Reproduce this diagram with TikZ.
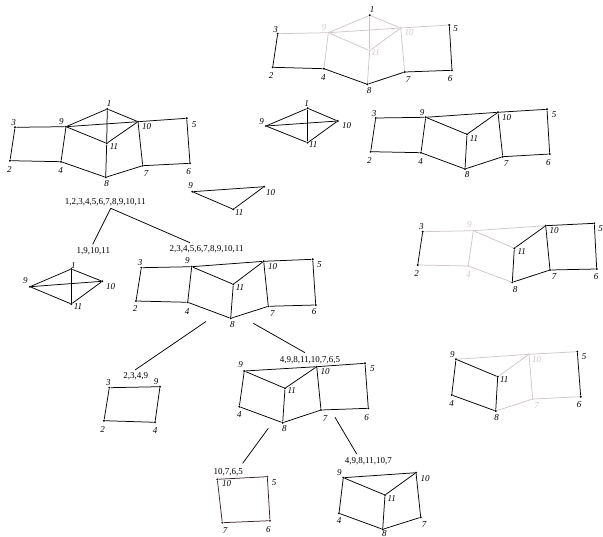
\documentclass[tikz,border=0pt]{standalone}
\usepackage{fontspec}
\setmainfont{Liberation Serif}
\definecolor{GraphFaint}{HTML}{CFC7C7}
\definecolor{GraphBrown}{HTML}{3A2424}
\tikzset{
  vertex/.style={circle, fill, inner sep=0pt, minimum size=2.2pt},
  vlabel/.style={font=\fontsize{9}{10}\selectfont\itshape, inner sep=0pt},
  setlabel/.style={font=\fontsize{9}{10}\selectfont, inner sep=0pt},
  gedge/.style={line width=0.75pt},
  fedge/.style={line width=0.75pt, GraphFaint},
}
\begin{document}
\begin{tikzpicture}[x=1pt,y=-1pt]
  \useasboundingbox (0,0) rectangle (603,537);
  % top: core faded
  \foreach \n/\x/\y/\lx/\ly/\c in {1/369.7/15.3/372/10/black, 2/272.7/67.3/271/76/black, 3/277.7/33.7/275.7/30/black, 4/324/68.7/323.3/77.3/black, 5/449.3/25/455.7/29/black, 6/452/70.3/450/79/black, 7/404.7/72/408/80/black, 8/367.3/84.3/369/90.7/black, 9/328.3/32.7/324/28/GraphFaint, 10/400.7/28/409/33/GraphFaint, 11/369.7/50.7/375.7/52.7/GraphFaint} {
    \node[vertex,\c] (T\n) at (\x,\y) {};
    \node[vlabel,text=\c] (lT\n) at (\lx,\ly) {\n};
  }
  \foreach \a/\b in {3/9, 9/1, 1/10, 9/10, 9/11, 1/11, 10/11, 10/5, 9/4, 11/8, 10/7}
    \draw[fedge] (T\a) -- (T\b);
  \foreach \a/\b in {3/2, 2/4, 4/8, 8/7, 7/6, 6/5}
    \draw[gedge] (T\a) -- (T\b);
  % left: whole graph
  \foreach \n/\x/\y/\lx/\ly in {1/107.3/109/109/103.3, 2/10/160.7/9.3/169.3, 3/15/127.3/13.7/122.7, 4/61/161.7/60.7/170.7, 5/186.7/118.3/194/124.3, 6/190/163.3/188.7/172, 7/142.7/165.7/146/174, 8/105.7/177.3/106.7/183.3, 9/66/126.7/61.3/121.7, 10/138/121.7/146.7/126.7, 11/106.7/143.3/114/146.7} {
    \node[vertex] (L\n) at (\x,\y) {};
    \node[vlabel] (lL\n) at (\lx,\ly) {\n};
  }
  \foreach \a/\b in {1/9, 1/10, 1/11, 9/10, 9/11, 10/11, 3/9, 3/2, 2/4, 4/9, 4/8, 8/11, 8/7, 7/10, 10/5, 5/6, 6/7}
    \draw[gedge] (L\a) -- (L\b);
  % small K4
  \foreach \n/\x/\y/\lx/\ly in {1/307.7/108.3/306.7/103.3, 9/266/126/261.7/121.7, 10/337.7/121/346.7/125.7, 11/307.7/142.7/313.3/145} {
    \node[vertex] (K\n) at (\x,\y) {};
    \node[vlabel] (lK\n) at (\lx,\ly) {\n};
  }
  \foreach \a/\b in {1/9, 1/10, 1/11, 9/10, 9/11, 10/11}
    \draw[gedge] (K\a) -- (K\b);
  % right: without 1
  \foreach \n/\x/\y/\lx/\ly in {2/370.7/151.7/369.3/160.7, 3/375.7/118/374/114, 4/421/152.7/420.7/161.7, 5/547/109.3/554/115, 6/549.7/154/548.3/162.7, 7/502.7/156.7/506/164, 8/465/169/467/175, 9/425.7/117.3/422/112.7, 10/498/112.3/506.7/117.3, 11/467/134.3/474/138.3} {
    \node[vertex] (R\n) at (\x,\y) {};
    \node[vlabel] (lR\n) at (\lx,\ly) {\n};
  }
  \foreach \a/\b in {3/9, 9/10, 10/5, 9/11, 11/10, 3/2, 2/4, 4/9, 4/8, 8/11, 8/7, 7/10, 5/6, 6/7}
    \draw[gedge] (R\a) -- (R\b);
  % triangle
  \foreach \n/\x/\y/\lx/\ly in {9/192.3/191.7/190.7/186, 10/264/186.7/270.7/192.7, 11/233.3/209.3/239.3/212.7} {
    \node[vertex] (Y\n) at (\x,\y) {};
    \node[vlabel] (lY\n) at (\lx,\ly) {\n};
  }
  \foreach \a/\b in {9/10, 10/11, 11/9}
    \draw[gedge] (Y\a) -- (Y\b);
  % tree
  \node[setlabel] (sRoot) at (105.3,202.3) {1,2,3,4,5,6,7,8,9,10,11};
  \node[setlabel] (sCore) at (93.3,251) {1,9,10,11};
  \node[setlabel] (sRest) at (206.7,249.3) {2,3,4,5,6,7,8,9,10,11};
  \node[setlabel] (sSquare) at (135.7,376) {2,3,4,9};
  \node[setlabel] (sBig) at (310,360) {4,9,8,11,10,7,6,5};
  \node[setlabel] (sQuad) at (228.3,471.7) {10,7,6,5};
  \node[setlabel] (sSix) at (368.3,461) {4,9,8,11,10,7};
  \coordinate (cRoot) at (110.7,208.3);
  \coordinate (cCore) at (92.7,244.3);
  \coordinate (cRest) at (190,242.7);
  \coordinate (cRestL) at (206,321.5);
  \coordinate (cRestR) at (253.3,323.3);
  \coordinate (cSquare) at (135,370);
  \coordinate (cBig) at (305,352.7);
  \coordinate (cBigL) at (268.3,428.3);
  \coordinate (cBigR) at (335,417.3);
  \coordinate (cQuad) at (242.7,463.3);
  \coordinate (cSix) at (356.7,454);
  \draw[gedge] (cRoot) -- (cCore);
  \draw[gedge] (cRoot) -- (cRest);
  \draw[gedge] (cRestL) -- (cSquare);
  \draw[gedge] (cRestR) -- (cBig);
  \draw[gedge] (cBigL) -- (cQuad);
  \draw[gedge] (cBigR) -- (cSix);
  % K4 under the tree
  \foreach \n/\x/\y/\lx/\ly in {1/71.3/269/73.3/266, 9/30/286.7/25.3/280.7, 10/102.3/281.3/110.7/287, 11/71.3/304/78/306.7} {
    \node[vertex] (Q\n) at (\x,\y) {};
    \node[vlabel] (lQ\n) at (\lx,\ly) {\n};
  }
  \foreach \a/\b in {1/9, 1/10, 1/11, 9/10, 9/11, 10/11}
    \draw[gedge] (Q\a) -- (Q\b);
  % middle: without 1
  \foreach \n/\x/\y/\lx/\ly in {2/136/301/135/308.7, 3/141.3/267.7/140/262.7, 4/187.7/302.3/187/311.3, 5/312.7/259.3/319.3/265, 6/315.7/305/314/311.7, 7/268.3/306.3/272.3/313.3, 8/230.7/318.3/232.3/324.3, 9/191.7/266.7/187.3/261, 10/263.7/261.3/272.7/266.7, 11/233.3/284.3/240/287.3} {
    \node[vertex] (M\n) at (\x,\y) {};
    \node[vlabel] (lM\n) at (\lx,\ly) {\n};
  }
  \foreach \a/\b in {3/9, 9/10, 10/5, 9/11, 11/10, 3/2, 2/4, 4/9, 4/8, 8/11, 8/7, 7/10, 5/6, 6/7}
    \draw[gedge] (M\a) -- (M\b);
  % square 2,3,4,9
  \foreach \n/\x/\y/\lx/\ly in {2/104/420.7/102.7/429.3, 3/109.3/387.7/108.3/382.7, 4/155/422.3/155/430.7, 9/160/386.7/156/381.7} {
    \node[vertex] (S\n) at (\x,\y) {};
    \node[vlabel] (lS\n) at (\lx,\ly) {\n};
  }
  \foreach \a/\b in {3/9, 9/4, 4/2, 2/3}
    \draw[gedge] (S\a) -- (S\b);
  % 4,9,8,11,10,7,6,5
  \foreach \n/\x/\y/\lx/\ly in {4/239.3/406.7/239.3/414.3, 5/365/363.3/372.3/369, 6/368.3/408.3/366.7/417.7, 7/321/410/325/418.7, 8/282.7/422.7/284.3/429, 9/244.3/371/240.7/365, 10/316.7/366.7/325/371.7, 11/285/388.3/291.7/391} {
    \node[vertex] (N\n) at (\x,\y) {};
    \node[vlabel] (lN\n) at (\lx,\ly) {\n};
  }
  \foreach \a/\b in {9/10, 10/5, 9/11, 11/10, 9/4, 4/8, 8/11, 8/7, 7/10, 7/6, 6/5}
    \draw[gedge] (N\a) -- (N\b);
  % 10,7,6,5
  \foreach \n/\x/\y/\lx/\ly in {5/267.3/476.7/274/482.3, 6/270/520.7/268.3/529.3, 7/222.3/522.7/225/530.7, 10/217.3/479.3/226.7/483.3} {
    \node[vertex,GraphBrown] (P\n) at (\x,\y) {};
    \node[vlabel] (lP\n) at (\lx,\ly) {\n};
  }
  \foreach \a/\b in {10/5, 5/6, 6/7, 7/10}
    \draw[gedge,GraphBrown] (P\a) -- (P\b);
  % 4,9,8,11,10,7
  \foreach \n/\x/\y/\lx/\ly in {4/339/513.3/339/520.7, 7/420.7/517.3/424/525, 8/382.7/529.3/384.3/533.3, 9/343.3/477.7/339.3/472.7, 10/416/472.7/425/478.3, 11/385/495/391.7/498.3} {
    \node[vertex] (H\n) at (\x,\y) {};
    \node[vlabel] (lH\n) at (\lx,\ly) {\n};
  }
  \foreach \a/\b in {9/10, 9/11, 11/10, 9/4, 4/8, 8/11, 8/7, 7/10}
    \draw[gedge] (H\a) -- (H\b);
  % right, 10,7,6,5 side kept
  \foreach \n/\x/\y/\lx/\ly/\c in {2/417.7/265/416.7/273.3/black, 3/422.7/231.7/421.3/226.7/black, 4/468.3/266/468.3/275/GraphFaint, 5/594.3/223.3/600.7/228.3/black, 6/596.7/269/596/276.7/black, 7/550/270/554/276.7/black, 8/512.3/282.3/515/289.3/black, 9/473.3/230.7/469.3/225/GraphFaint, 10/545.7/225.7/554/230.7/black, 11/514.3/248.3/521.7/251.7/black} {
    \node[vertex,\c] (U\n) at (\x,\y) {};
    \node[vlabel,text=\c] (lU\n) at (\lx,\ly) {\n};
  }
  \foreach \a/\b in {3/9, 9/10, 9/11, 9/4, 2/4, 4/8}
    \draw[fedge] (U\a) -- (U\b);
  \foreach \a/\b in {3/2, 11/10, 11/8, 8/7, 7/10, 10/5, 5/6, 6/7}
    \draw[gedge] (U\a) -- (U\b);
  % right, 4,9,8,11 side kept
  \foreach \n/\x/\y/\lx/\ly/\c in {4/451.7/395/451.7/403.3/black, 5/577.3/351.7/584/356.7/black, 6/580.7/396.7/579/405/black, 7/532.7/399/536.7/406/GraphFaint, 8/495.7/411/496.7/417.3/black, 9/456/359.3/452.3/354.3/black, 10/529/354.3/536.7/359.3/GraphFaint, 11/497.7/376.7/504.3/380/black} {
    \node[vertex,\c] (V\n) at (\x,\y) {};
    \node[vlabel,text=\c] (lV\n) at (\lx,\ly) {\n};
  }
  \foreach \a/\b in {9/10, 10/5, 11/10, 8/7, 7/10, 7/6}
    \draw[fedge] (V\a) -- (V\b);
  \foreach \a/\b in {9/11, 9/4, 4/8, 8/11, 5/6}
    \draw[gedge] (V\a) -- (V\b);
\end{tikzpicture}
\end{document}
